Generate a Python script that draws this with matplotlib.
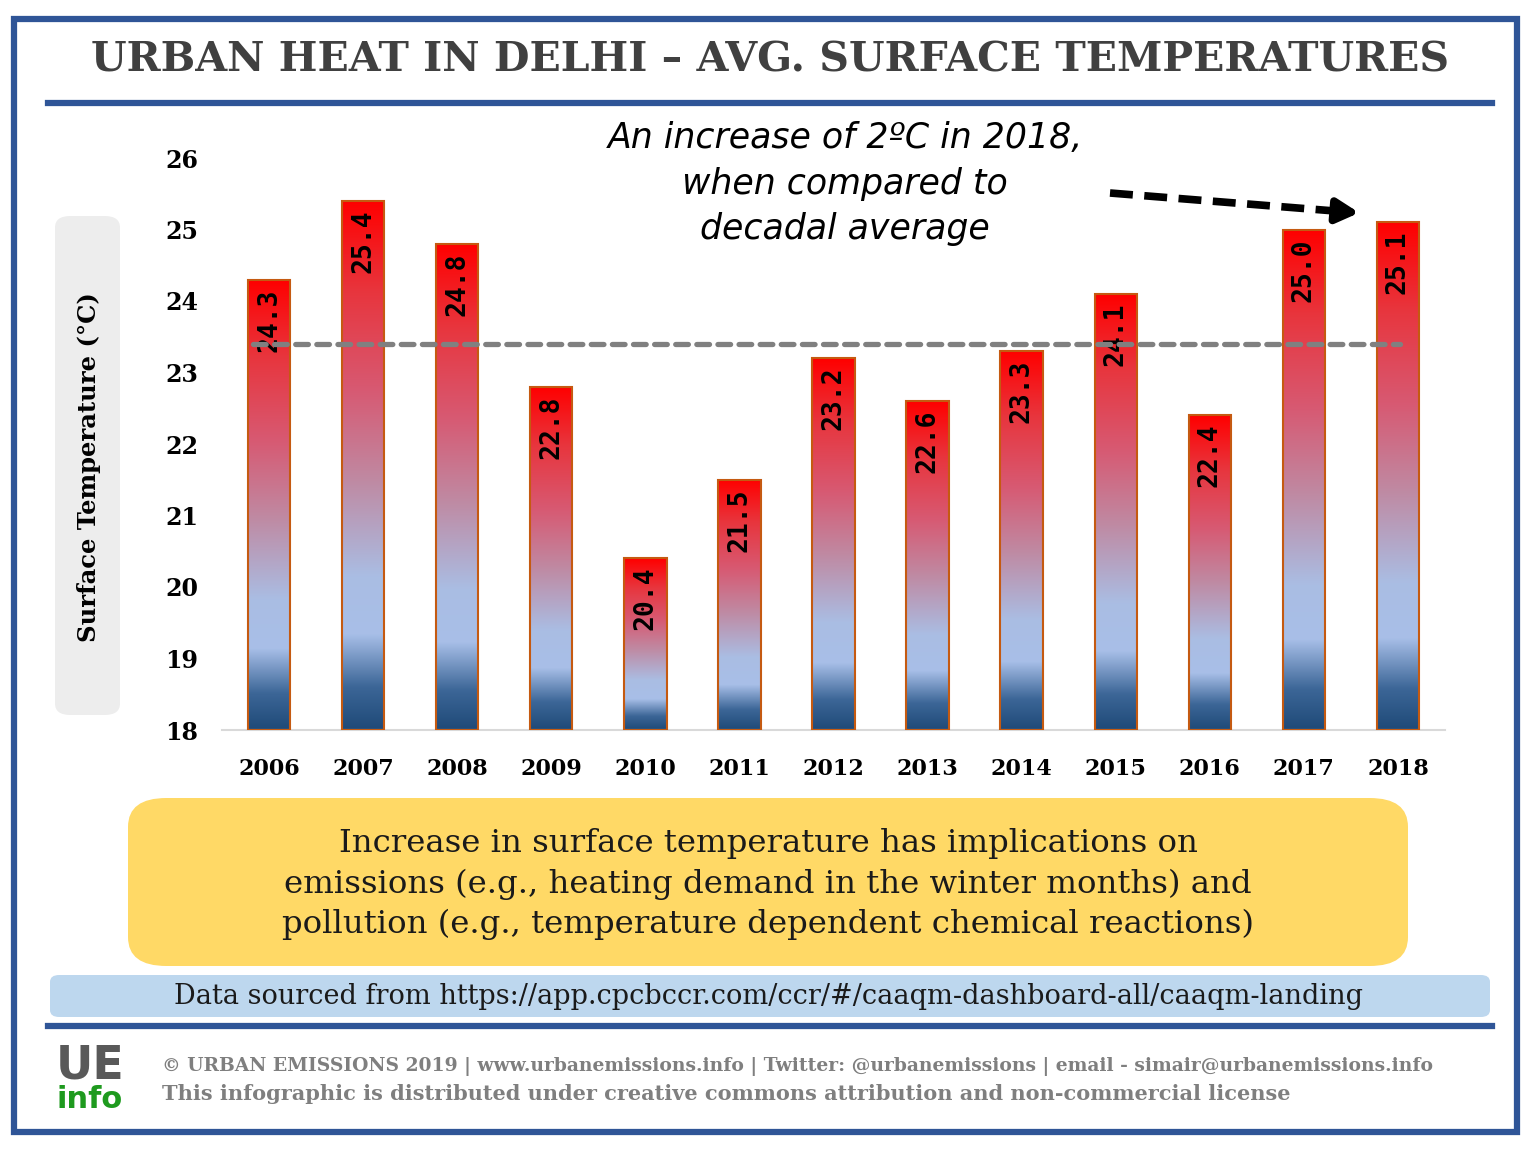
import numpy as np
import matplotlib.pyplot as plt
from matplotlib.colors import LinearSegmentedColormap
from matplotlib.patches import FancyBboxPatch, Rectangle
from matplotlib.lines import Line2D

# dados
anos = ['2006', '2007', '2008', '2009', '2010', '2011', '2012',
        '2013', '2014', '2015', '2016', '2017', '2018']
temperaturas = [24.3, 25.4, 24.8, 22.8, 20.4, 21.5, 23.2,
                22.6, 23.3, 24.1, 22.4, 25.0, 25.1]
media_decadal = 23.4
y_ticks = [18, 19, 20, 21, 22, 23, 24, 25, 26]

titulo = 'URBAN HEAT IN DELHI \u2013 AVG. SURFACE TEMPERATURES'
nota = ['An increase of 2\u00baC in 2018,', 'when compared to', 'decadal average']
texto_caixa = ('Increase in surface temperature has implications on\n'
               'emissions (e.g., heating demand in the winter months) and\n'
               'pollution (e.g., temperature dependent chemical reactions)')
fonte = 'Data sourced from https://app.cpcbccr.com/ccr/#/caaqm-dashboard-all/caaqm-landing'
rodape1 = ('\u00a9 URBAN EMISSIONS 2019 | www.urbanemissions.info | Twitter: @urbanemissions'
           ' | email - simair@urbanemissions.info')
rodape2 = 'This infographic is distributed under creative commons attribution and non-commercial license'

W, H = 1536, 1152
azul = '#2F5597'
serif = 'DejaVu Serif'


def fx(px):
    return px / W


def fy(py):
    return 1 - py / H


fig = plt.figure(figsize=(W / 100, H / 100), dpi=100)

# moldura externa
fig.patches.append(Rectangle((fx(14), fy(1132)), fx(1517) - fx(14), fy(19) - fy(1132),
                             transform=fig.transFigure, fill=False, edgecolor=azul, lw=4.5))

# titulo e linha azul
fig.text(fx(770), fy(61), titulo, ha='center', va='center', fontsize=29.5,
         fontweight='heavy', family=serif, color='#404040')
fig.add_artist(Line2D([fx(48), fx(1492)], [fy(103), fy(103)], color=azul, lw=4.5))

# grafico
ax = fig.add_axes([fx(222), fy(730), fx(1445) - fx(222), fy(158) - fy(730)])
x = np.arange(len(anos))
base = y_ticks[0]

cores = [(0.0, '#1F4A78'), (0.08, '#3C6697'), (0.18, '#A8BFE8'), (0.29, '#AABDE3'),
         (0.47, '#BF8AA3'), (0.64, '#D75A73'), (0.83, '#E8353D'), (1.0, '#FF0000')]
cmap = LinearSegmentedColormap.from_list('calor', cores)
grad = np.linspace(0, 1, 256).reshape(-1, 1)

barras = ax.bar(x, np.array(temperaturas) - base, bottom=base, width=0.45,
                facecolor='none', edgecolor='#C55A11', lw=1.5, zorder=3)
for b, t in zip(barras, temperaturas):
    x0, y0, w, h = b.get_x(), b.get_y(), b.get_width(), b.get_height()
    ax.imshow(grad, cmap=cmap, extent=[x0, x0 + w, y0, y0 + h], origin='lower',
              aspect='auto', zorder=2, interpolation='bilinear')
    ax.text(b.get_x() + w / 2, t - 0.12, f'{t:.1f}', rotation=90, ha='center', va='top',
            fontsize=19, fontweight='bold', family='DejaVu Sans Mono', color='black', zorder=4)

# linha da media
ax.hlines(media_decadal, x[0] - 0.17, x[-1] + 0.02, colors='#808080', lw=3.8,
          linestyles=(0, (2.4, 1.6)), capstyle='round', zorder=5)

ax.set_xlim(-0.5, len(anos) - 0.5)
ax.set_ylim(base, y_ticks[-1])
ax.set_yticks(y_ticks)
ax.set_xticks(x)
ax.set_xticklabels(anos)
for s in ['top', 'right', 'left']:
    ax.spines[s].set_visible(False)
ax.spines['bottom'].set_color('#D9D9D9')
ax.spines['bottom'].set_linewidth(1.5)
ax.tick_params(axis='both', length=0)
ax.tick_params(axis='y', pad=17)
ax.tick_params(axis='x', pad=20)
for lb in ax.get_yticklabels():
    lb.set_fontsize(17)
    lb.set_fontweight('bold')
    lb.set_family(serif)
for lb in ax.get_xticklabels():
    lb.set_fontsize(16)
    lb.set_fontweight('bold')
    lb.set_family(serif)
ax.patch.set_alpha(0)

# rotulo do eixo y com caixa cinza
fig.patches.append(FancyBboxPatch((fx(55), fy(715)), fx(120) - fx(55), fy(216) - fy(715),
                                  boxstyle='round,pad=0,rounding_size=0.01',
                                  transform=fig.transFigure, facecolor='#EDEDED',
                                  edgecolor='none'))
fig.text(fx(89), fy(467), 'Surface Temperature (\u00b0C)', rotation=90, ha='center',
         va='center', fontsize=17.5, fontweight='bold', family=serif)

# anotacao
for txt, py in zip(nota, [138, 184, 229]):
    fig.text(fx(845), fy(py), txt, ha='center', va='center', fontsize=25,
             style='italic', family='DejaVu Sans')
fig.add_artist(Line2D([fx(1110), fx(1335)], [fy(193), fy(211)], color='black', lw=5.5,
                      linestyle=(0, (3, 1.5))))
ax.annotate('', xy=(fx(1362), fy(213)), xytext=(fx(1330), fy(210.5)),
            xycoords='figure fraction', textcoords='figure fraction',
            arrowprops=dict(arrowstyle='-|>,head_length=1.3,head_width=0.7',
                            color='black', lw=5.5))

# caixa amarela
fig.patches.append(FancyBboxPatch((fx(128), fy(966)), fx(1408) - fx(128), fy(798) - fy(966),
                                  boxstyle='round,pad=0,rounding_size=0.025',
                                  transform=fig.transFigure, facecolor='#FFD966',
                                  edgecolor='none'))
fig.text(fx(768), fy(884), texto_caixa, ha='center', va='center', fontsize=23.3,
         family=serif, linespacing=1.38, color='#1A1A1A')

# caixa azul da fonte
fig.patches.append(FancyBboxPatch((fx(50), fy(1017)), fx(1490) - fx(50), fy(975) - fy(1017),
                                  boxstyle='round,pad=0,rounding_size=0.006',
                                  transform=fig.transFigure, facecolor='#BDD7EE',
                                  edgecolor='none'))
fig.text(fx(769), fy(997), fonte, ha='center', va='center', fontsize=19.5, family=serif,
         color='#1A1A1A')
fig.add_artist(Line2D([fx(48), fx(1492)], [fy(1026), fy(1026)], color=azul, lw=4.5))

# rodape
fig.text(fx(90), fy(1066), 'UE', ha='center', va='center', fontsize=33, fontweight='bold',
         color='#595959', family='DejaVu Sans')
fig.text(fx(90), fy(1100), 'info', ha='center', va='center', fontsize=22, fontweight='bold',
         color='#1E9A1E', family='DejaVu Sans')
fig.text(fx(162), fy(1067), rodape1, ha='left', va='center', fontsize=13.5,
         fontweight='bold', color='#7F7F7F', family=serif)
fig.text(fx(162), fy(1094), rodape2, ha='left', va='center', fontsize=15,
         fontweight='bold', color='#7F7F7F', family=serif)

fig.savefig('out.png', dpi=100)
